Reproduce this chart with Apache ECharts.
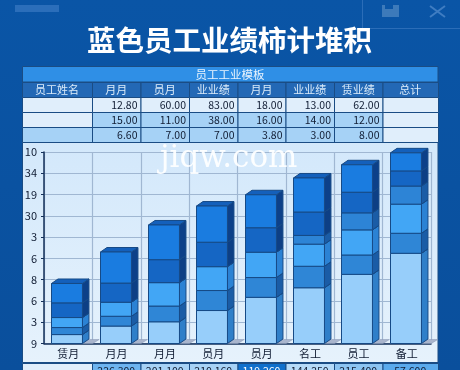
<!DOCTYPE html>
<html>
<head>
<meta charset="utf-8">
<title>蓝色员工业绩柿计堆积</title>
<style>
html, body { margin: 0; padding: 0; background: #0a519f; }
#main { width: 460px; height: 370px; }
</style>
<script src="https://cdn.jsdelivr.net/npm/echarts@6/dist/echarts.min.js"></script>
</head>
<body>
<div id="main"></div>
<script>
/* 图表数据 */
var categories = ['赁月', '月月', '月月', '员月', '员月', '名工', '员工', '备工'];
var yTickLabels = ['9', '3', '6', '8', '6', '3', '30', '19', '34', '10'];
var layerLight = [4.2, 8.2, 10.2, 15.5, 21.7, 26.2, 32.5, 42.4];
var layerMid = [3.3, 4.6, 7.4, 9.4, 9.3, 10.1, 9.1, 9.4];
var layerBright = [4.7, 6.6, 11.0, 11.2, 11.9, 10.4, 11.8, 13.7];
var layerThin = [0, 0, 0, 0, 0, 4.1, 8.0, 8.5];
var layerDark = [6.9, 9.0, 10.8, 11.5, 11.5, 11.0, 9.7, 7.1];
var layerTop = [9.1, 14.6, 16.3, 17.0, 15.5, 16.0, 12.9, 8.5];

/* 表格数据 */
var titleText = '蓝色员工业绩柿计堆积';
var tableTitle = '员工工业模板';
var tableHeader = ['员工姓名', '月月', '员月', '业业绩', '月月', '业业绩', '赁业绩', '总计'];
var tableRow1 = ['', '12.80', '60.00', '83.00', '18.00', '13.00', '62.00', ''];
var tableRow2 = ['', '15.00', '11.00', '38.00', '16.00', '14.00', '12.00', ''];
var tableRow3 = ['', '6.60', '7.00', '7.00', '3.80', '3.00', '8.00', ''];
var tableTotal = ['', '226,300', '201,100', '210,160', '119,260', '144,250', '215,400', '57,600'];

var columnX = [22, 92, 140.5, 189, 237.5, 285.5, 334, 382.5, 438];
var layerStyles = [
	{ front: '#97cefa', side: '#2f7fc9' },
	{ front: '#2f86d6', side: '#1a5ca6' },
	{ front: '#42a6f5', side: '#2b82d4' },
	{ front: '#2d84d6', side: '#1a5ca6' },
	{ front: '#1566c4', side: '#0d3f85' },
	{ front: '#1a7ce0', side: '#0c4089' }
];
var uiFont = '"Noto Sans CJK SC", "Noto Sans", sans-serif';
var textDark = '#101c33';
var lineDark = '#1a4c84';

function barRenderer(layerIndex) {
	var style = layerStyles[layerIndex];
	return function(params, api) {
		if (api.value(2) <= api.value(1)) {
			return;
		}
		var low = api.coord([api.value(0), api.value(1)]);
		var high = api.coord([api.value(0), api.value(2)]);
		var width = api.size([1, 0])[0] * 0.64;
		var left = Math.round(low[0] - width / 2 - 1.5) + 0.5;
		var right = left + width;
		var dx = 6.5, dy = 4.5;
		function face(points, fill) {
			return {
				type: 'polygon',
				shape: { points: points },
				style: { fill: fill, stroke: '#164a86', lineWidth: 1 }
			};
		}
		return {
			type: 'group',
			children: [
				face([[right, high[1]], [right + dx, high[1] - dy], [right + dx, low[1] - dy], [right, low[1]]], style.side),
				face([[left, high[1]], [left + dx, high[1] - dy], [right + dx, high[1] - dy], [right, high[1]]], '#1460bb'),
				face([[left, high[1]], [right, high[1]], [right, low[1]], [left, low[1]]], style.front)
			]
		};
	};
}

/* 地板阴影 */
function floorRenderer(params, api) {
	var p = api.coord([api.value(0), 0]);
	var width = api.size([1, 0])[0] * 0.64;
	var right = p[0] + width / 2 - 1.5;
	return {
		type: 'polygon',
		shape: { points: [[right, p[1]], [right + 6.5, p[1] - 4], [right + 17, p[1] - 4], [right + 10.5, p[1]]] },
		style: { fill: '#a9b5cd', stroke: '#8494b3', lineWidth: 0.5 }
	};
}

function stackSeries() {
	var layers = [layerLight, layerMid, layerBright, layerThin, layerDark, layerTop];
	var bases = categories.map(function() { return 0; });
	var list = [{
		type: 'custom',
		renderItem: floorRenderer,
		data: categories.map(function(c, i) { return [i, 0]; }),
		encode: { x: 0, y: 1 },
		z: 2
	}];
	layers.forEach(function(values, n) {
		list.push({
			type: 'custom',
			renderItem: barRenderer(n),
			encode: { x: 0, y: [1, 2] },
			data: values.map(function(v, i) {
				var row = [i, bases[i], bases[i] + v];
				bases[i] += v;
				return row;
			}),
			z: 3 + n
		});
	});
	return list;
}

function rect(x, y, w, h, fill, stroke, z) {
	return {
		type: 'rect',
		z: z === undefined ? -5 : z,
		shape: { x: x, y: y, width: w, height: h },
		style: { fill: fill, stroke: stroke || null, lineWidth: stroke ? 1 : 0 }
	};
}

function label(text, x, y, size, fill, align, weight, z) {
	return {
		type: 'text',
		z: z === undefined ? -4 : z,
		x: x,
		y: y,
		style: {
			text: text,
			fill: fill,
			font: (weight || 'normal') + ' ' + size + 'px ' + uiFont,
			textAlign: align,
			textVerticalAlign: 'middle'
		}
	};
}

function tableRow(values, y, h, fills, textFills, size, align) {
	var items = [];
	values.forEach(function(v, i) {
		var x0 = columnX[i], x1 = columnX[i + 1];
		items.push(rect(x0 + 0.5, y + 0.5, x1 - x0, h, fills[i], lineDark));
		if (v) {
			var tx = align === 'right' ? x1 - 3 : (x0 + x1) / 2;
			items.push(label(v, tx, y + h / 2 + 0.5, size, textFills ? textFills[i] : textDark, align));
		}
	});
	return items;
}

function repeat(v) {
	return categories.map(function() { return v; });
}

function backgroundItems() {
	var items = [];
	var i;
	items.push({
		type: 'rect',
		z: -10,
		shape: { x: 0, y: 0, width: 460, height: 370 },
		style: { fill: new echarts.graphic.LinearGradient(0, 0, 0, 1, [
			{ offset: 0, color: '#0a55a6' },
			{ offset: 1, color: '#0a4f9c' }
		]) }
	});
	for (i = 1; i < 12; i++) {
		items.push({ type: 'line', z: -9, shape: { x1: i * 40, y1: 0, x2: i * 40, y2: 370 }, style: { stroke: 'rgba(255,255,255,0.012)' } });
		items.push({ type: 'line', z: -9, shape: { x1: 0, y1: i * 32, x2: 460, y2: i * 32 }, style: { stroke: 'rgba(255,255,255,0.012)' } });
	}
	/* 顶部装饰 */
	items.push(rect(15, 5, 44, 7, '#2b6eba', null, -8));
	items.push({ type: 'polyline', z: -8, shape: { points: [[362.5, 0], [362.5, 28.5], [460, 28.5]] }, style: { stroke: '#2b6db8', fill: null } });
	items.push(rect(382, 5, 17, 12, '#3d7aba', null, -8));
	items.push(rect(385, 5, 8, 4, '#0a55a6', null, -8));
	items.push({ type: 'line', z: -8, shape: { x1: 430, y1: 6, x2: 445, y2: 17 }, style: { stroke: '#3f7dc2', lineWidth: 2 } });
	items.push({ type: 'line', z: -8, shape: { x1: 445, y1: 6, x2: 430, y2: 17 }, style: { stroke: '#3f7dc2', lineWidth: 2 } });
	items.push(label(titleText, 229.5, 40, 28.5, '#ffffff', 'center', 'bold', -8));

	/* 表格 */
	var pale = '#e0eefb', mid = '#a6d2f6';
	items.push(rect(22.5, 66.5, 415.5, 15.5, '#2f8fe6', lineDark));
	items.push(label(tableTitle, 230, 74.5, 11.5, '#e8f3fd', 'center'));
	items = items.concat(tableRow(tableHeader, 82, 15, repeat('#2368b5'), repeat('#dcecfa'), 11, 'center'));
	items = items.concat(tableRow(tableRow1, 97, 15, repeat(pale), null, 10.5, 'right'));
	items = items.concat(tableRow(tableRow2, 112, 15, [pale, mid, mid, mid, mid, mid, mid, pale], null, 10.5, 'right'));
	items = items.concat(tableRow(tableRow3, 127, 15, [mid, mid, mid, mid, mid, mid, mid, pale], null, 10.5, 'right'));

	/* 图表面板 */
	items.push({
		type: 'rect',
		z: -5,
		shape: { x: 22.5, y: 142.5, width: 415.5, height: 220 },
		style: {
			fill: new echarts.graphic.LinearGradient(0, 0, 0, 1, [
				{ offset: 0, color: '#d3e8fb' },
				{ offset: 1, color: '#e6f2fc' }
			]),
			stroke: lineDark,
			lineWidth: 1
		}
	});
	var totalFills = [pale, '#6db4f0', mid, mid, '#1070cc', '#b5daf8', '#8cc4f2', '#5aaaec'];
	var totalText = repeat(textDark);
	totalText[4] = '#ffffff';
	items = items.concat(tableRow(tableTotal, 363, 15, totalFills, totalText, 10.5, 'center'));

	/* 水印 */
	items.push({
		type: 'text',
		z: 100,
		x: 160,
		y: 174,
		style: {
			text: 'jiqw.com',
			fill: 'rgba(255,255,255,0.92)',
			font: '31px "DejaVu Serif", serif',
			textAlign: 'left',
			textVerticalAlign: 'bottom'
		}
	});
	return items;
}

var myChart = echarts.init(document.getElementById('main'), null, { renderer: 'canvas' });
myChart.setOption({
	animation: false,
	graphic: { elements: backgroundItems() },
	grid: { left: 44, right: 29, top: 152, bottom: 26.5 },
	xAxis: {
		type: 'category',
		data: categories,
		axisLine: { lineStyle: { color: '#14305a', width: 1.5 } },
		axisTick: { length: 3, lineStyle: { color: '#14305a' } },
		axisLabel: { color: textDark, fontSize: 11, fontFamily: uiFont, margin: 5 },
		splitLine: { show: true, lineStyle: { color: '#a0b7d2', width: 1.2 } }
	},
	yAxis: {
		type: 'value',
		min: 0,
		max: 90,
		interval: 10,
		axisLine: { show: true, lineStyle: { color: '#14305a', width: 1.5 } },
		axisTick: { show: true, length: 3, lineStyle: { color: '#14305a' } },
		axisLabel: {
			color: textDark,
			fontSize: 11,
			fontFamily: uiFont,
			margin: 7,
			formatter: function(value) {
				return yTickLabels[value / 10];
			}
		},
		splitLine: { show: true, lineStyle: { color: '#a0b7d2', width: 1.2 } }
	},
	series: stackSeries()
}, true);
</script>
</body>
</html>
